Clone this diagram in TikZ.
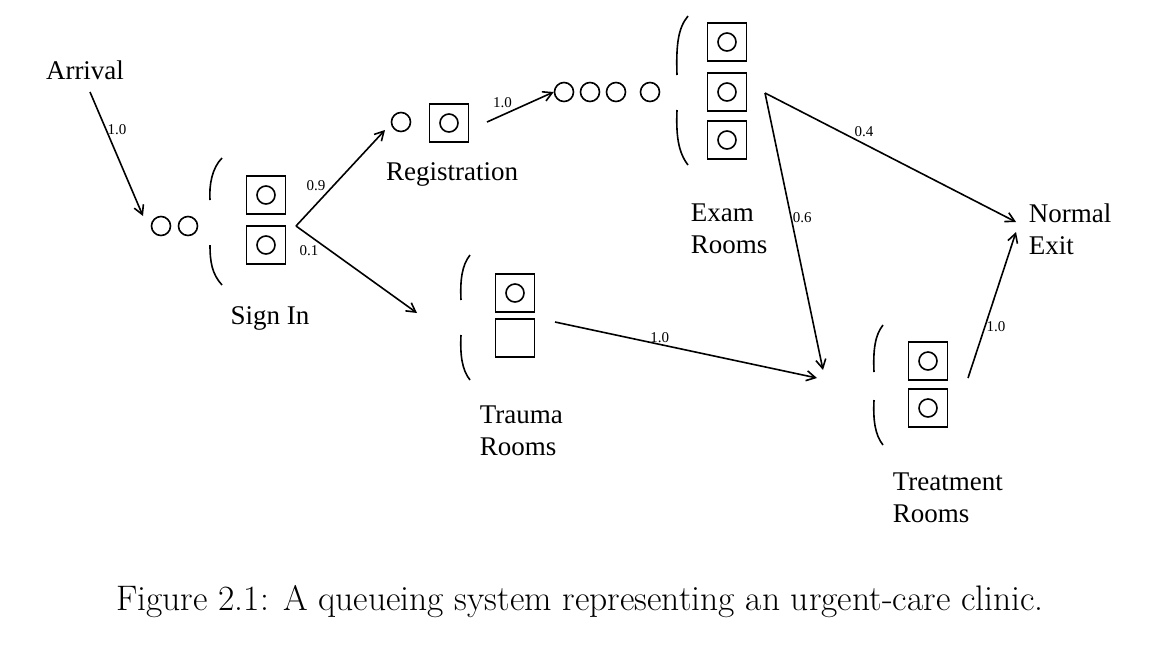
\documentclass[tikz,border=0pt]{standalone}
\usepackage{fontspec}
\setmainfont{Liberation Serif}
\newfontfamily\lm{Latin Modern Roman}
\usetikzlibrary{arrows.meta}
\begin{document}
\begin{tikzpicture}[x=1pt,y=-1pt,line width=1.6pt,
  srv/.style={draw,line width=1.6pt,minimum width=39pt,minimum height=38pt,inner sep=0pt},
  cust/.style={draw,line width=1.6pt,circle,minimum size=19pt,inner sep=0pt},
  arr/.style={-{Straight Barb[length=9pt,width=10pt]},line width=1.6pt},
  lab/.style={font=\fontsize{15}{15}\selectfont,inner sep=1pt},
  txt/.style={font=\fontsize{27}{32}\selectfont,align=left,inner sep=0pt},
  par/.style={line width=1.6pt}]
\useasboundingbox (0,0) rectangle (1158,657);
% Arrival
\node[txt] (arr) at (85,70) {Arrival};
\coordinate (a1) at (90,92);
\node[cust] (q1) at (161,226) {};
\node[cust] (q2) at (188,226) {};
\coordinate (a2) at (143,216);
\draw[arr] (a1) -- node[lab,pos=0.3,right] {1.0} (a2);
% Sign in
\draw[par] (222,158) .. controls (212,168) and (209,185) .. (210,200);
\draw[par] (210,245) .. controls (210,262) and (212,274) .. (222,285);
\node[srv] (s1) at (266,195) {}; \node[cust,minimum size=18pt] at (s1) {};
\node[srv] (s2) at (266,245) {}; \node[cust,minimum size=18pt] at (s2) {};
\node[txt] at (270,318) {Sign In};
\coordinate (b) at (296,226);
% Registration
\node[cust] (r0) at (401,122) {};
\node[srv] (r1) at (449,123) {}; \node[cust,minimum size=18pt] at (r1) {};
\node[txt] at (452,174) {Registration};
\coordinate (rt) at (385,130);
\draw[arr] (b) -- node[lab,pos=0.35,above left] {0.9} (rt);
\coordinate (r2) at (487,122);
\node[cust] (e1) at (564,92) {};
\node[cust] (e2) at (590,92) {};
\node[cust] (e3) at (616,92) {};
\node[cust] (e4) at (650,92) {};
\draw[arr] (r2) -- node[lab,pos=0.4,above left] {1.0} (e1.west);
% Exam
\draw[par] (688,16) .. controls (678,28) and (676,45) .. (677,75);
\draw[par] (677,110) .. controls (676,135) and (678,152) .. (688,165);
\node[srv] (x1) at (727,42) {}; \node[cust,minimum size=18pt] at (x1) {};
\node[srv] (x2) at (727,92) {}; \node[cust,minimum size=18pt] at (x2) {};
\node[srv] (x3) at (727,140) {}; \node[cust,minimum size=18pt] at (x3) {};
\node[txt,anchor=west] at (690,229) {Exam\\Rooms};
\coordinate (xo) at (765,93);
% Trauma
\draw[par] (470,255) .. controls (462,265) and (460,280) .. (461,300);
\draw[par] (461,335) .. controls (460,355) and (462,370) .. (470,380);
\node[srv] (t1) at (515,293) {}; \node[cust,minimum size=18pt] at (t1) {};
\node[srv] (t2) at (515,338) {};
\node[txt,anchor=west] at (479,431) {Trauma\\Rooms};
\coordinate (tt) at (417,313);
\draw[arr] (b) -- node[lab,pos=0.2,below left] {0.1} (tt);
\coordinate (to) at (555,322);
% Treatment
\draw[par] (883,325) .. controls (875,335) and (873,350) .. (874,372);
\draw[par] (874,400) .. controls (873,420) and (875,435) .. (883,445);
\node[srv] (m1) at (928,361) {}; \node[cust,minimum size=18pt] at (m1) {};
\node[srv] (m2) at (928,408) {}; \node[cust,minimum size=18pt] at (m2) {};
\node[txt,anchor=west] at (892,498) {Treatment\\Rooms};
\coordinate (mi) at (817,378);
\coordinate (me) at (823,370);
\coordinate (mo) at (968,378);
% Exit
\node[txt,anchor=west] (ex) at (1028,229) {Normal\\Exit};
\coordinate (ei) at (1016,222);
\coordinate (ei2) at (1016,232);
\draw[arr] (xo) -- node[lab,pos=0.35,above right] {0.4} (ei);
\draw[arr] (xo) -- node[lab,pos=0.45,right] {0.6} (me);
\draw[arr] (to) -- node[lab,pos=0.4,above] {1.0} (mi);
\draw[arr] (mo) -- node[lab,pos=0.35,right] {1.0} (ei2);
% Caption
\node[font=\lm\fontsize{35.5}{40}\selectfont] at (580,602) {Figure 2.1: A queueing system representing an urgent-care clinic.};
\end{tikzpicture}
\end{document}
